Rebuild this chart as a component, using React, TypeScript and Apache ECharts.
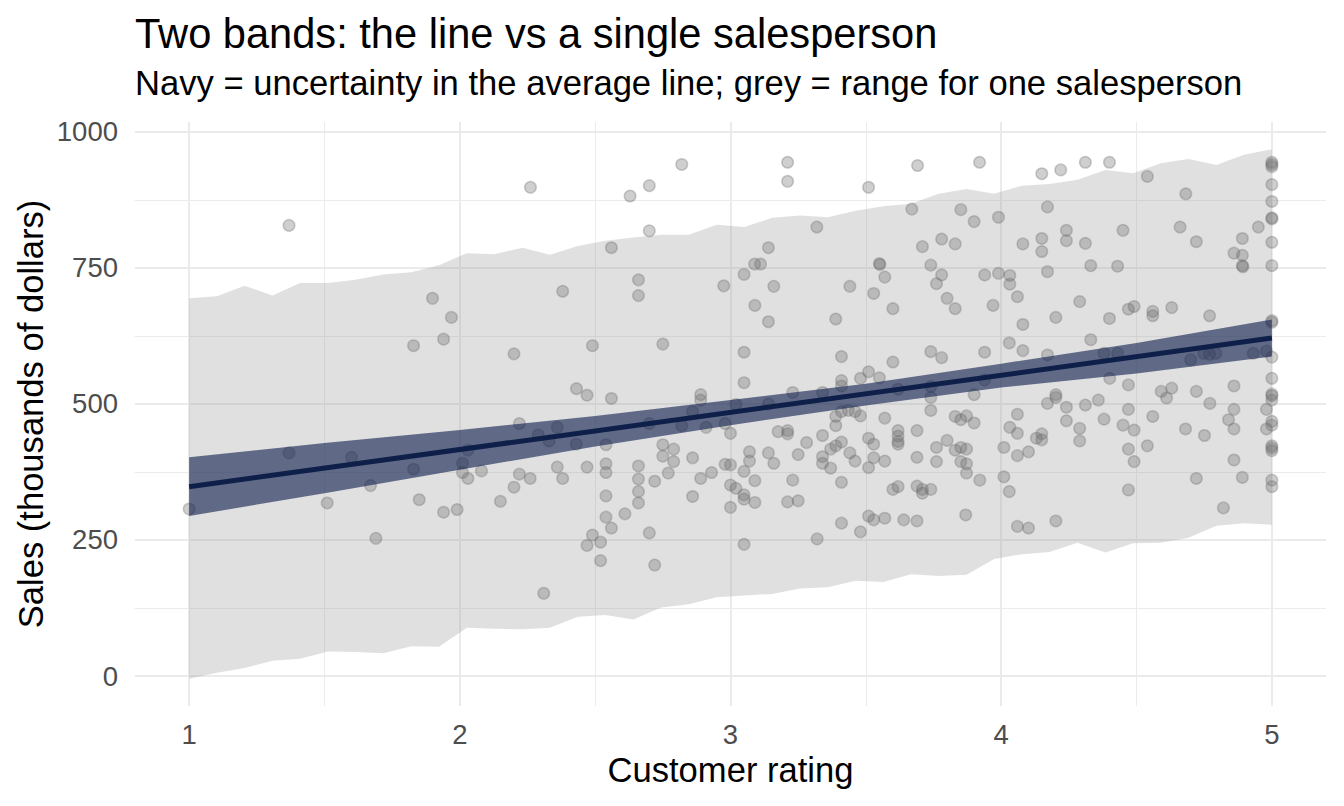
import React, { useEffect, useRef } from 'react';
import * as echarts from 'echarts';

const titleText = 'Two bands: the line vs a single salesperson';
const subtitleText = 'Navy = uncertainty in the average line; grey = range for one salesperson';
const xAxisTitle = 'Customer rating';
const yAxisTitle = 'Sales (thousands of dollars)';

const xTicks = [1, 2, 3, 4, 5];
const xMinor = [1.5, 2.5, 3.5, 4.5];
const yTicks = [0, 250, 500, 750, 1000];
const yMinor = [125, 375, 625, 875];

// prediction band (grey) for one salesperson
const bandX = [1.0, 1.103, 1.205, 1.308, 1.41, 1.513, 1.615, 1.718, 1.821, 1.923, 2.026, 2.128, 2.231, 2.333, 2.436, 2.538, 2.641, 2.744, 2.846, 2.949, 3.051, 3.154, 3.256, 3.359, 3.462, 3.564, 3.667, 3.769, 3.872, 3.974, 4.077, 4.179, 4.282, 4.385, 4.487, 4.59, 4.692, 4.795, 4.897, 5.0];
const bandUpper = [694, 698, 717, 699, 722, 722, 728, 738, 742, 755, 777, 775, 787, 774, 790, 800, 806, 811, 811, 829, 825, 842, 846, 843, 855, 863, 868, 886, 895, 886, 901, 904, 912, 930, 924, 942, 950, 939, 958, 968];
const bandLower = [-5, 6, 15, 28, 32, 45, 44, 42, 55, 54, 89, 87, 86, 89, 109, 112, 104, 126, 132, 145, 148, 151, 161, 163, 175, 173, 187, 184, 186, 215, 224, 228, 245, 227, 244, 245, 254, 276, 281, 278];

// confidence band (navy) for the average line
const ciX = [1, 1.5, 2, 2.5, 3, 3.5, 4, 4.5, 5];
const ciLower = [294, 336, 379, 422, 461, 497, 530, 556, 587];
const ciUpper = [402, 428, 452, 478, 507, 537, 574, 612, 655];

// fitted line
const fitX = [1, 5];
const fitY = [348, 621];

// salespeople: [customer rating, sales]
const salespeople: [number, number][] = [
  [1.0, 307], [1.369, 828], [1.369, 410], [1.51, 318], [1.6, 402], [1.67, 350], [1.69, 253], [1.829, 607], [1.829, 380], [1.85, 324],
  [1.899, 694], [1.94, 619], [1.94, 301], [1.969, 659], [1.99, 306], [2.01, 391], [2.01, 374], [2.03, 415], [2.03, 363], [2.08, 377],
  [2.15, 321], [2.2, 592], [2.2, 347], [2.22, 464], [2.22, 371], [2.261, 898], [2.26, 363], [2.29, 443], [2.31, 152], [2.33, 432],
  [2.36, 457], [2.36, 384], [2.38, 707], [2.38, 363], [2.43, 426], [2.431, 528], [2.47, 516], [2.47, 384], [2.47, 240], [2.49, 607],
  [2.49, 259], [2.52, 246], [2.52, 212], [2.54, 425], [2.54, 390], [2.54, 374], [2.54, 331], [2.54, 292], [2.56, 787], [2.56, 510],
  [2.56, 272], [2.61, 298], [2.629, 882], [2.66, 728], [2.66, 699], [2.66, 386], [2.66, 362], [2.66, 339], [2.66, 318], [2.7, 901],
  [2.7, 818], [2.7, 464], [2.7, 263], [2.72, 358], [2.72, 204], [2.75, 610], [2.75, 425], [2.75, 404], [2.77, 373], [2.79, 417],
  [2.79, 394], [2.82, 940], [2.82, 460], [2.86, 486], [2.86, 401], [2.86, 330], [2.89, 517], [2.89, 507], [2.89, 363], [2.91, 457],
  [2.93, 374], [2.975, 717], [2.98, 464], [2.98, 389], [3.0, 388], [3.0, 446], [3.0, 351], [3.0, 310], [3.02, 499], [3.02, 345],
  [3.05, 738], [3.05, 595], [3.05, 539], [3.05, 376], [3.05, 333], [3.05, 325], [3.05, 242], [3.07, 412], [3.07, 395], [3.089, 757],
  [3.09, 681], [3.09, 359], [3.09, 319], [3.111, 757], [3.14, 787], [3.14, 651], [3.14, 500], [3.14, 410], [3.16, 716], [3.16, 391],
  [3.176, 449], [3.211, 944], [3.211, 909], [3.211, 451], [3.211, 445], [3.211, 320], [3.23, 521], [3.23, 360], [3.25, 407], [3.25, 322],
  [3.281, 429], [3.319, 825], [3.32, 252], [3.34, 521], [3.34, 442], [3.34, 403], [3.34, 391], [3.37, 417], [3.37, 382], [3.389, 656],
  [3.389, 477], [3.389, 460], [3.389, 423], [3.41, 587], [3.41, 543], [3.41, 533], [3.41, 486], [3.41, 430], [3.41, 356], [3.41, 281],
  [3.435, 488], [3.441, 716], [3.441, 410], [3.46, 486], [3.46, 395], [3.48, 547], [3.48, 478], [3.48, 265], [3.51, 898], [3.51, 559],
  [3.51, 437], [3.51, 383], [3.51, 294], [3.529, 703], [3.529, 426], [3.529, 401], [3.529, 287], [3.55, 758], [3.552, 756], [3.55, 548],
  [3.57, 733], [3.57, 474], [3.57, 395], [3.57, 290], [3.6, 675], [3.6, 577], [3.6, 343], [3.619, 527], [3.619, 451], [3.619, 441],
  [3.619, 431], [3.619, 426], [3.619, 348], [3.64, 287], [3.67, 858], [3.689, 451], [3.689, 402], [3.689, 349], [3.689, 285], [3.691, 938],
  [3.709, 789], [3.709, 343], [3.709, 336], [3.74, 755], [3.74, 596], [3.74, 532], [3.74, 512], [3.74, 488], [3.74, 343], [3.761, 721],
  [3.761, 420], [3.761, 394], [3.78, 803], [3.78, 737], [3.78, 585], [3.8, 694], [3.8, 433], [3.83, 794], [3.83, 675], [3.83, 477],
  [3.83, 415], [3.851, 857], [3.851, 471], [3.851, 420], [3.851, 394], [3.869, 296], [3.872, 478], [3.872, 417], [3.872, 390], [3.872, 373],
  [3.9, 835], [3.9, 517], [3.9, 465], [3.92, 944], [3.921, 360], [3.939, 737], [3.939, 595], [3.939, 544], [3.97, 681], [3.99, 843],
  [3.99, 740], [4.01, 420], [4.01, 366], [4.03, 612], [4.032, 736], [4.032, 720], [4.032, 457], [4.03, 339], [4.06, 697], [4.06, 481],
  [4.06, 446], [4.06, 405], [4.06, 275], [4.08, 794], [4.08, 646], [4.08, 598], [4.101, 412], [4.101, 272], [4.13, 437], [4.15, 923],
  [4.15, 804], [4.15, 780], [4.15, 445], [4.15, 434], [4.171, 862], [4.171, 743], [4.171, 590], [4.171, 501], [4.202, 659], [4.202, 517],
  [4.202, 512], [4.202, 285], [4.22, 930], [4.241, 819], [4.241, 800], [4.241, 494], [4.241, 469], [4.29, 688], [4.29, 455], [4.29, 432],
  [4.311, 944], [4.311, 795], [4.311, 498], [4.331, 754], [4.331, 618], [4.359, 507], [4.38, 593], [4.38, 472], [4.4, 944], [4.4, 657],
  [4.401, 547], [4.43, 753], [4.43, 593], [4.45, 819], [4.45, 461], [4.47, 674], [4.47, 535], [4.47, 490], [4.47, 417], [4.47, 342],
  [4.491, 679], [4.491, 452], [4.491, 394], [4.54, 918], [4.54, 423], [4.56, 670], [4.56, 662], [4.56, 477], [4.591, 523], [4.611, 511],
  [4.63, 677], [4.63, 529], [4.661, 825], [4.681, 454], [4.682, 886], [4.7, 581], [4.721, 798], [4.721, 523], [4.721, 363], [4.748, 593],
  [4.751, 442], [4.77, 662], [4.77, 591], [4.771, 501], [4.793, 593], [4.821, 309], [4.84, 471], [4.86, 777], [4.86, 533], [4.86, 490],
  [4.86, 454], [4.86, 397], [4.891, 804], [4.891, 773], [4.891, 754], [4.893, 752], [4.891, 365], [4.931, 593], [4.95, 825], [4.98, 597],
  [4.98, 490], [4.98, 454],
  [5, 944], [5, 940], [5, 936], [5, 903], [5, 872], [5, 842], [5, 840], [5, 797], [5, 754], [5, 653], [5, 650], [5, 586],
  [5, 547], [5, 518], [5, 515], [5, 507], [5, 468], [5, 461], [5, 423], [5, 419], [5, 414], [5, 360], [5, 348],
];

const FONT = '"Liberation Sans", Arial, Helvetica, sans-serif';

export default function App() {
  const ref = useRef<HTMLDivElement>(null);

  useEffect(() => {
    document.body.style.margin = '0';
    const chart = echarts.init(ref.current as HTMLDivElement, null, { renderer: 'svg' });

    const major = { color: '#EBEBEB', width: 2, type: 'solid' };
    const minor = { color: '#EBEBEB', width: 1, type: 'solid' };
    const gridLines = [
      ...xMinor.map((v) => ({ xAxis: v, lineStyle: minor })),
      ...yMinor.map((v) => ({ yAxis: v, lineStyle: minor })),
      ...xTicks.map((v) => ({ xAxis: v, lineStyle: major })),
      ...yTicks.map((v) => ({ yAxis: v, lineStyle: major })),
    ];

    const bandPolygon = (xs: number[], upper: number[], lower: number[], fill: string) =>
      (params: any, api: any) => {
        const pts: number[][] = [];
        for (let i = 0; i < xs.length; i++) pts.push(api.coord([xs[i], upper[i]]));
        for (let i = xs.length - 1; i >= 0; i--) pts.push(api.coord([xs[i], lower[i]]));
        return { type: 'polygon', shape: { points: pts }, style: { fill } };
      };

    chart.setOption({
      animation: false,
      backgroundColor: '#ffffff',
      textStyle: { fontFamily: FONT },
      grid: { left: 135, right: 18, top: 122, bottom: 100, containLabel: false, outerBoundsMode: 'none' },
      xAxis: {
        type: 'value',
        min: 0.8,
        max: 5.2,
        axisLine: { show: false },
        axisTick: { show: false },
        splitLine: { show: false },
        axisLabel: {
          customValues: xTicks,
          margin: 14,
          fontSize: 27.5,
          color: '#4D4D4D',
          fontFamily: FONT,
          formatter: (v: number) => String(v),
        },
      },
      yAxis: {
        type: 'value',
        min: -55,
        max: 1018,
        axisLine: { show: false },
        axisTick: { show: false },
        splitLine: { show: false },
        axisLabel: {
          customValues: yTicks,
          margin: 17,
          fontSize: 27.5,
          color: '#4D4D4D',
          fontFamily: FONT,
          formatter: (v: number) => String(v),
        },
      },
      graphic: [
        {
          type: 'text', x: 135, y: 33, silent: true,
          style: { text: titleText, fontSize: 41.6, fontFamily: FONT, fill: '#000000', align: 'left', verticalAlign: 'middle' },
        },
        {
          type: 'text', x: 135, y: 83, silent: true,
          style: { text: subtitleText, fontSize: 34.6, fontFamily: FONT, fill: '#000000', align: 'left', verticalAlign: 'middle' },
        },
        {
          type: 'text', x: 730.5, y: 770, silent: true,
          style: { text: xAxisTitle, fontSize: 34.6, fontFamily: FONT, fill: '#000000', align: 'center', verticalAlign: 'middle' },
        },
        {
          type: 'text', x: 31, y: 414, rotation: Math.PI / 2, silent: true,
          style: { text: yAxisTitle, fontSize: 34.6, fontFamily: FONT, fill: '#000000', align: 'center', verticalAlign: 'middle' },
        },
      ],
      series: [
        {
          name: 'grid',
          type: 'line',
          data: [[1, 0]],
          symbol: 'none',
          lineStyle: { opacity: 0 },
          silent: true,
          z: 1,
          markLine: {
            z: 1,
            silent: true,
            symbol: ['none', 'none'],
            label: { show: false },
            emphasis: { disabled: true },
            animation: false,
            lineStyle: { type: 'solid' },
            data: gridLines,
          },
        },
        {
          name: 'prediction band',
          type: 'custom',
          data: [[1, 0]],
          silent: true,
          z: 2,
          renderItem: bandPolygon(bandX, bandUpper, bandLower, 'rgba(153,153,153,0.3)'),
        },
        {
          name: 'salespeople',
          type: 'scatter',
          data: salespeople,
          symbol: 'circle',
          symbolSize: 11.5,
          silent: true,
          z: 3,
          itemStyle: {
            color: 'rgba(110,110,110,0.33)',
            borderColor: 'rgba(110,110,110,0.33)',
            borderWidth: 1.5,
            opacity: 1,
          },
        },
        {
          name: 'confidence band',
          type: 'custom',
          data: [[1, 0]],
          silent: true,
          z: 4,
          renderItem: bandPolygon(ciX, ciUpper, ciLower, 'rgba(17,34,80,0.62)'),
        },
        {
          name: 'fit',
          type: 'line',
          data: fitX.map((x, i) => [x, fitY[i]]),
          symbol: 'none',
          silent: true,
          z: 5,
          lineStyle: { color: '#0E1F4A', width: 5, cap: 'butt' },
        },
      ],
    });

    return () => chart.dispose();
  }, []);

  return <div ref={ref} style={{ width: 1344, height: 806 }} />;
}
